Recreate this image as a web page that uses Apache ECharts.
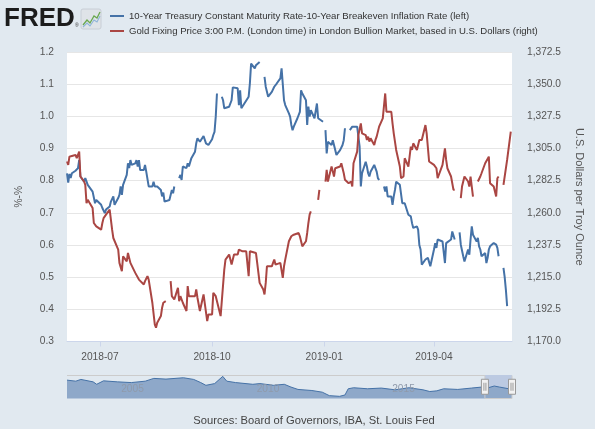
<!DOCTYPE html>
<html>
<head>
<meta charset="utf-8">
<script src="https://cdn.jsdelivr.net/npm/echarts@6/dist/echarts.min.js"></script>
<style>
html,body{margin:0;padding:0;background:#E1E9F0;}
#chart{width:595px;height:429px;}
</style>
</head>
<body>
<div id="chart"></div>
<script>
// ---------- DATA ----------
const seriesNames = [
  '10-Year Treasury Constant Maturity Rate-10-Year Breakeven Inflation Rate (left)',
  'Gold Fixing Price 3:00 P.M. (London time) in London Bullion Market, based in U.S. Dollars (right)'
];
const xTickDates = ['2018-07-01','2018-10-01','2019-01-01','2019-04-01'];
const xRange = ['2018-06-04','2019-06-04'];

const realRateDates = [
'2018-06-04','2018-06-05','2018-06-06','2018-06-07','2018-06-08','2018-06-11','2018-06-13','2018-06-14','2018-06-15',
'2018-06-18','2018-06-19','2018-06-21','2018-06-22','2018-06-25','2018-06-27','2018-06-28','2018-06-29',
'2018-07-02','2018-07-03','2018-07-05','2018-07-06','2018-07-09','2018-07-10','2018-07-12','2018-07-13',
'2018-07-16','2018-07-17','2018-07-18','2018-07-19','2018-07-20','2018-07-23','2018-07-24','2018-07-25','2018-07-26','2018-07-27',
'2018-07-30','2018-07-31','2018-08-01','2018-08-02','2018-08-03','2018-08-06','2018-08-07','2018-08-08','2018-08-10',
'2018-08-13','2018-08-14','2018-08-15','2018-08-17','2018-08-20','2018-08-21','2018-08-22','2018-08-23','2018-08-24',
'2018-08-27','2018-08-28','2018-08-29','2018-08-30','2018-08-31','2018-09-03','2018-09-04','2018-09-05','2018-09-06','2018-09-07',
'2018-09-10','2018-09-11','2018-09-12','2018-09-14','2018-09-17','2018-09-18','2018-09-19','2018-09-20','2018-09-21',
'2018-09-24','2018-09-26','2018-09-27','2018-09-28','2018-10-01','2018-10-02','2018-10-03','2018-10-04','2018-10-05',
'2018-10-08','2018-10-09','2018-10-10','2018-10-11','2018-10-12','2018-10-15','2018-10-17','2018-10-18','2018-10-19',
'2018-10-22','2018-10-23','2018-10-24','2018-10-25','2018-10-26','2018-10-31','2018-11-01','2018-11-02',
'2018-11-05','2018-11-06','2018-11-07','2018-11-09','2018-11-12','2018-11-13','2018-11-14','2018-11-16',
'2018-11-19','2018-11-20','2018-11-21','2018-11-23','2018-11-26','2018-11-27','2018-11-29','2018-11-30',
'2018-12-03','2018-12-04','2018-12-05','2018-12-06','2018-12-07','2018-12-10','2018-12-11','2018-12-12','2018-12-13','2018-12-14',
'2018-12-17','2018-12-18','2018-12-19','2018-12-20','2018-12-21','2018-12-24','2018-12-26','2018-12-27','2018-12-28',
'2018-12-31','2019-01-01','2019-01-02','2019-01-03','2019-01-04','2019-01-07','2019-01-08','2019-01-09','2019-01-10','2019-01-11',
'2019-01-14','2019-01-15','2019-01-16','2019-01-17','2019-01-18','2019-01-21','2019-01-22','2019-01-23','2019-01-24','2019-01-25',
'2019-01-28','2019-01-29','2019-01-30','2019-01-31','2019-02-01','2019-02-04','2019-02-05','2019-02-06','2019-02-07','2019-02-08',
'2019-02-11','2019-02-12','2019-02-13','2019-02-14','2019-02-15','2019-02-18','2019-02-19','2019-02-20','2019-02-21','2019-02-22',
'2019-02-25','2019-02-26','2019-02-27','2019-02-28','2019-03-01','2019-03-04','2019-03-05','2019-03-06','2019-03-07','2019-03-08',
'2019-03-11','2019-03-12','2019-03-13','2019-03-14','2019-03-15','2019-03-18','2019-03-19','2019-03-20','2019-03-21','2019-03-22',
'2019-03-25','2019-03-26','2019-03-27','2019-03-28','2019-03-29','2019-04-01','2019-04-02','2019-04-03','2019-04-04','2019-04-05',
'2019-04-08','2019-04-09','2019-04-10','2019-04-11','2019-04-12','2019-04-15','2019-04-16','2019-04-17','2019-04-18','2019-04-19',
'2019-04-22','2019-04-23','2019-04-25','2019-04-26','2019-04-29','2019-04-30','2019-05-01','2019-05-02','2019-05-03',
'2019-05-06','2019-05-07','2019-05-08','2019-05-09','2019-05-10','2019-05-13','2019-05-14','2019-05-15','2019-05-16','2019-05-17',
'2019-05-20','2019-05-21','2019-05-22','2019-05-23','2019-05-24','2019-05-27','2019-05-28','2019-05-29','2019-05-30','2019-05-31'
];
const realRateValues = [
0.823,0.794,0.821,0.808,0.823,0.831,0.839,0.864,0.813,
0.797,0.808,0.787,0.782,0.766,0.730,0.740,0.735,
0.725,0.715,0.699,0.710,0.720,0.735,0.751,0.725,
0.746,0.756,0.782,0.756,0.787,0.818,0.854,0.839,0.864,0.849,
0.854,0.864,0.844,0.864,0.833,0.833,0.849,0.828,0.782,
0.782,0.797,0.782,0.782,0.771,0.751,0.763,0.735,0.730,
0.740,0.746,0.771,0.761,0.782,null,0.808,0.818,0.802,0.844,
0.839,0.854,0.844,0.870,0.890,0.916,0.932,0.926,0.921,
0.939,0.916,0.921,0.911,0.929,0.942,0.952,0.999,1.071,
null,1.061,1.050,1.025,1.030,1.030,1.050,1.090,1.092,
1.087,1.035,1.081,1.025,1.019,1.061,1.102,1.164,
1.149,1.159,1.154,1.169,null,1.123,1.092,1.061,
1.076,1.071,1.092,1.102,1.118,1.149,1.050,1.035,
1.009,0.999,0.973,0.957,0.968,0.994,0.999,1.014,1.081,1.071,
1.050,0.973,1.030,0.999,1.019,0.994,1.040,0.994,0.989,
0.983,null,0.957,0.885,0.921,0.911,0.926,0.911,0.916,0.880,
0.895,0.901,0.911,0.926,0.963,null,0.957,0.952,0.968,0.970,
0.968,0.965,0.906,0.782,0.823,0.859,0.844,0.823,0.813,0.828,
0.849,0.849,0.828,0.808,0.802,null,0.782,0.766,0.782,0.751,
0.751,0.725,0.751,0.771,0.797,0.787,0.782,0.730,0.725,0.730,
0.694,0.699,0.689,0.668,0.653,0.658,0.648,0.600,0.586,0.539,
0.555,0.549,0.560,0.565,0.534,0.586,0.606,0.591,0.617,0.611,
0.611,0.617,0.544,0.606,0.611,0.617,0.642,0.648,0.617,null,
0.639,0.601,0.565,0.549,0.586,0.570,0.617,0.658,0.632,
0.611,0.622,0.596,0.586,0.565,0.575,0.544,0.560,0.586,0.596,
0.606,0.603,0.601,0.591,0.565,null,0.529,0.500,0.460,0.410
];

const goldDates = [
'2018-06-04','2018-06-05','2018-06-06','2018-06-07','2018-06-08','2018-06-11','2018-06-12','2018-06-14','2018-06-15',
'2018-06-18','2018-06-19','2018-06-20','2018-06-21','2018-06-22','2018-06-25','2018-06-26','2018-06-28','2018-06-29',
'2018-07-02','2018-07-03','2018-07-04','2018-07-05','2018-07-06','2018-07-09','2018-07-10','2018-07-11','2018-07-12','2018-07-13',
'2018-07-16','2018-07-17','2018-07-19','2018-07-20','2018-07-23','2018-07-24','2018-07-26','2018-07-27',
'2018-07-30','2018-08-02','2018-08-03','2018-08-06','2018-08-07','2018-08-08','2018-08-09','2018-08-10',
'2018-08-13','2018-08-15','2018-08-16','2018-08-17','2018-08-20','2018-08-21','2018-08-22','2018-08-24',
'2018-08-27','2018-08-28','2018-08-29','2018-08-30','2018-08-31','2018-09-03','2018-09-04','2018-09-05','2018-09-07',
'2018-09-10','2018-09-11','2018-09-12','2018-09-14','2018-09-17','2018-09-18','2018-09-19','2018-09-21',
'2018-09-24','2018-09-27','2018-09-28','2018-10-01','2018-10-02','2018-10-03','2018-10-04',
'2018-10-08','2018-10-09','2018-10-11','2018-10-12','2018-10-15','2018-10-17','2018-10-19',
'2018-10-22','2018-10-23','2018-10-24','2018-10-26','2018-10-29','2018-10-30','2018-10-31','2018-11-01','2018-11-02',
'2018-11-06','2018-11-07','2018-11-09','2018-11-12','2018-11-13','2018-11-14','2018-11-15',
'2018-11-19','2018-11-20','2018-11-21','2018-11-22','2018-11-23','2018-11-26','2018-11-28','2018-11-29','2018-11-30',
'2018-12-03','2018-12-05','2018-12-07','2018-12-11','2018-12-12','2018-12-14',
'2018-12-17','2018-12-18','2018-12-19','2018-12-20','2018-12-21','2018-12-24','2018-12-27','2018-12-28',
'2018-12-31','2019-01-02','2019-01-03','2019-01-04','2019-01-07','2019-01-08','2019-01-09','2019-01-10','2019-01-11',
'2019-01-14','2019-01-15','2019-01-16','2019-01-17','2019-01-18','2019-01-21','2019-01-22','2019-01-23','2019-01-24','2019-01-25',
'2019-01-28','2019-01-29','2019-01-31','2019-02-01','2019-02-04','2019-02-05','2019-02-06','2019-02-07','2019-02-08',
'2019-02-11','2019-02-12','2019-02-13','2019-02-14','2019-02-15','2019-02-18','2019-02-20','2019-02-21','2019-02-22',
'2019-02-25','2019-02-26','2019-02-27','2019-03-01','2019-03-04','2019-03-05','2019-03-07','2019-03-08',
'2019-03-11','2019-03-12','2019-03-13','2019-03-14','2019-03-15','2019-03-18','2019-03-20','2019-03-21','2019-03-22',
'2019-03-25','2019-03-26','2019-03-28','2019-03-29','2019-04-01','2019-04-03','2019-04-04',
'2019-04-08','2019-04-10','2019-04-11','2019-04-12','2019-04-15','2019-04-17','2019-04-18','2019-04-19',
'2019-04-23','2019-04-24','2019-04-26','2019-04-29','2019-04-30','2019-05-01','2019-05-03',
'2019-05-06','2019-05-07','2019-05-09','2019-05-10','2019-05-13','2019-05-16','2019-05-17',
'2019-05-20','2019-05-22','2019-05-23','2019-05-24','2019-05-27','2019-05-28','2019-05-29','2019-05-31','2019-06-03'
];
const goldValues = [
1295.9,1293.5,1299.3,1298.2,1299.8,1300.5,1298.2,1302.8,1285.4,
1281.9,1279.6,1266.8,1269.1,1269.1,1263.3,1252.9,1250.5,1249.4,
1248.2,1252.9,1256.3,1256.3,1258.7,1262.2,1255.2,1248.2,1242.4,1241.2,
1234.3,1225.0,1219.2,1229.6,1226.1,1232.0,1225.0,1223.8,
1218.0,1213.3,1214.5,1209.9,1212.2,1211.0,1215.7,1213.3,
1197.1,1182.0,1179.7,1183.1,1187.8,1193.6,1197.1,1198.2,
null,1212.2,1201.7,1202.9,1199.4,1207.5,1198.2,1201.7,1197.1,
1191.3,1208.7,1201.7,1201.7,1201.7,1206.4,1200.6,1191.3,
1202.9,1184.3,1188.9,1188.9,1204.0,1202.9,1201.7,
1187.8,1186.6,1220.3,1227.3,1230.8,1223.8,1230.8,
1230.8,1234.3,1235.4,1233.1,1233.1,1231.9,1215.7,1233.1,1233.1,
1231.9,1225.0,1211.0,1206.4,1202.9,1211.0,1222.6,
1222.6,1225.0,1227.3,1223.8,1222.6,1225.0,1214.5,1222.6,1227.3,
1240.1,1243.6,1244.7,1245.9,1243.6,1236.6,
1240.1,1245.9,1252.9,1258.7,1261.0,null,1269.1,1276.1,
null,1281.9,1290.0,1281.9,1292.4,1289.0,1285.4,1291.2,1290.0,
1292.4,1294.7,1291.2,1287.7,1283.1,1280.7,1279.6,1281.9,1278.4,1294.7,
1302.8,1314.4,1322.6,1315.6,1314.4,1311.0,1313.3,1309.8,1312.1,
1307.5,1311.0,1313.3,1316.8,1320.3,1326.1,1343.5,1330.7,1331.9,
1330.7,1322.6,1315.6,1304.0,1292.4,1284.2,1285.4,1298.2,
1292.4,1299.3,1306.3,1304.0,1308.6,1304.0,1311.0,1312.1,1311.0,
1321.4,1315.6,1295.9,1295.9,1293.5,1291.2,1284.2,
1293.5,1305.1,1297.0,1291.2,1285.4,1276.1,1276.1,null,
1270.3,1278.4,1285.4,1281.9,1278.4,1285.4,1271.4,
null,1281.9,1285.4,1287.7,1294.7,1299.3,1280.7,
1278.4,1271.4,1284.2,1285.4,null,1279.6,1280.7,1297.0,1316.8
];

// navigator: long history of the left series (coarse reading)
const navDates = ['2003-01-02','2003-05-01','2003-07-08','2003-12-20','2004-02-06','2004-05-08','2004-11-13','2005-05-19',
'2005-11-22','2006-03-17','2006-08-28','2007-04-20','2007-09-05','2007-12-09','2008-02-17','2008-06-14','2008-10-01',
'2008-11-24','2009-03-22','2009-11-10','2010-02-14','2010-08-18','2011-01-08','2011-04-08','2011-07-12','2012-01-15',
'2012-06-03','2012-09-06','2013-01-22','2013-04-05','2013-05-19','2013-07-31','2014-02-03','2014-08-08','2015-02-10',
'2015-08-15','2016-02-20','2016-05-22','2016-08-25','2016-11-25','2017-06-03','2017-12-05','2018-04-23','2018-07-05',
'2018-10-08','2018-12-16','2019-04-22','2019-06-04'];
const navValues = [2.30,2.11,2.43,1.98,1.53,2.17,1.98,1.85,
2.11,2.62,2.49,2.74,2.43,1.85,1.34,1.66,3.00,
2.11,1.85,1.53,1.66,1.34,1.53,1.02,0.58,0.38,
0.07,-0.57,-0.70,-0.45,0.70,0.89,0.70,0.83,0.51,
0.89,0.51,0.19,0.32,0.70,0.58,0.83,1.02,0.83,
1.21,1.02,0.70,0.60];
const navRange = ['2003-01-02','2019-06-04'];
const navLabelDates = ['2005-01-01','2010-01-01','2015-01-01'];
const sourceText = 'Sources: Board of Governors, IBA, St. Louis Fed';

// ---------- CHART ----------
const BLUE = '#4572A7', RED = '#AA4643';
const ts = s => Date.UTC(+s.slice(0, 4), +s.slice(5, 7) - 1, +s.slice(8, 10));
const toPairs = (d, v) => d.map((x, i) => [ts(x), v[i] === null ? '-' : v[i]]);
const fmtYM = v => { const d = new Date(v); return d.getUTCFullYear() + '-' + String(d.getUTCMonth() + 1).padStart(2, '0'); };
const fmtY = v => String(new Date(v).getUTCFullYear());
const FONT = '"Liberation Sans", Arial, sans-serif';
const AXC = '#555';

const chart = echarts.init(document.getElementById('chart'), null, {renderer: 'canvas'});

function logoGraphics() {
  return [
    {type: 'text', id: 'fred', left: 4, top: 6, silent: true,
     style: {text: 'FRED', font: '900 26px "Liberation Sans", Arial, sans-serif', fill: '#1c1c1c'}},
    {type: 'text', id: 'reg', x: 75, y: 23, silent: true,
     style: {text: '\u00ae', font: '5px "Liberation Sans", Arial, sans-serif', fill: '#333'}},
    {type: 'rect', id: 'icon', shape: {x: 81, y: 9, width: 20, height: 20, r: 2}, silent: true,
     style: {fill: '#dfe3e8', stroke: '#c8ced6'}},
    {type: 'polyline', id: 'iconLine1', silent: true,
     shape: {points: [[83, 25], [87, 20], [90, 23], [94, 16], [97, 18], [100, 12]]},
     style: {stroke: '#6aa84f', lineWidth: 1.3, fill: null}},
    {type: 'polyline', id: 'iconLine2', silent: true,
     shape: {points: [[83, 27], [87, 23], [90, 26], [94, 20], [97, 22], [100, 16]]},
     style: {stroke: '#8fb5d9', lineWidth: 1.1, fill: null}},
    {type: 'text', id: 'source', x: 314, y: 421, silent: true,
     style: {text: sourceText, font: '11.2px ' + FONT, fill: '#444', align: 'center', verticalAlign: 'middle'}}
  ];
}

const option = {
  backgroundColor: '#E1E9F0',
  animation: false,
  textStyle: {fontFamily: FONT},
  legend: {
    left: 105, top: 5, orient: 'vertical', itemGap: 3,
    itemWidth: 14, itemHeight: 2, icon: 'rect',
    textStyle: {fontSize: 9.6, color: '#333', fontFamily: FONT, lineHeight: 12},
    selectedMode: false,
    data: seriesNames
  },
  grid: [
    {left: 67, right: 83, top: 52, height: 289.5, show: true, backgroundColor: '#fff', borderWidth: 0},
    {left: 67, right: 83, top: 375, height: 23.5, show: false}
  ],
  xAxis: [
    {type: 'value', gridIndex: 0, min: ts(xRange[0]), max: ts(xRange[1]), scale: true,
     axisLine: {show: true, onZero: false, lineStyle: {color: '#ccd6eb'}},
     axisTick: {show: true, length: 5, lineStyle: {color: '#ccd6eb'}, customValues: xTickDates.map(ts)},
     axisLabel: {customValues: xTickDates.map(ts), formatter: fmtYM, color: AXC, fontSize: 10.2, margin: 11,
                 showMinLabel: true, showMaxLabel: true, hideOverlap: false},
     splitLine: {show: false}},
    {type: 'value', gridIndex: 1, min: ts(navRange[0]), max: ts(navRange[1]), scale: true, z: 6,
     axisLine: {show: false, onZero: false}, axisTick: {show: false}, splitLine: {show: false},
     axisLabel: {inside: true, customValues: navLabelDates.map(ts), formatter: fmtY,
                 color: '#8f9aab', fontSize: 10.2, align: 'left', margin: 4,
                 showMinLabel: true, showMaxLabel: true, hideOverlap: false}}
  ],
  yAxis: [
    {type: 'value', gridIndex: 0, min: 0.3, max: 1.2, interval: 0.1, position: 'left',
     name: '%-%', nameLocation: 'middle', nameGap: 43, nameTextStyle: {color: AXC, fontSize: 10.2},
     axisLine: {show: false}, axisTick: {show: false},
     axisLabel: {formatter: v => v.toFixed(1), color: AXC, fontSize: 10.2, margin: 13},
     splitLine: {lineStyle: {color: '#e6e6e6', width: 1}}},
    {type: 'value', gridIndex: 0, min: 1170, max: 1372.5, interval: 22.5, position: 'right',
     name: 'U.S. Dollars per Troy Ounce', nameLocation: 'middle', nameRotate: -90, nameGap: 62,
     nameTextStyle: {color: AXC, fontSize: 11},
     axisLine: {show: false}, axisTick: {show: false},
     axisLabel: {formatter: v => v.toLocaleString('en-US', {minimumFractionDigits: 1, maximumFractionDigits: 1}),
                 color: AXC, fontSize: 10.2, margin: 15},
     splitLine: {show: false}},
    {type: 'value', gridIndex: 1, min: -1.1, max: 3.25, show: false}
  ],
  series: [
    {name: seriesNames[0], type: 'line', xAxisIndex: 0, yAxisIndex: 0, showSymbol: false, symbol: 'none',
     connectNulls: false, color: BLUE, lineStyle: {color: BLUE, width: 2}, silent: true,
     data: toPairs(realRateDates, realRateValues)},
    {name: seriesNames[1], type: 'line', xAxisIndex: 0, yAxisIndex: 1, showSymbol: false, symbol: 'none',
     connectNulls: false, color: RED, lineStyle: {color: RED, width: 2}, silent: true,
     data: toPairs(goldDates, goldValues)},
    {name: 'navigator', type: 'line', xAxisIndex: 1, yAxisIndex: 2, showSymbol: false, symbol: 'none', z: 1,
     lineStyle: {color: BLUE, width: 1}, areaStyle: {color: '#8ea8c9', opacity: 1, origin: 'start'}, silent: true,
     data: toPairs(navDates, navValues),
     markArea: {silent: true, itemStyle: {color: 'rgba(102,133,194,0.3)'},
                data: [[{xAxis: ts(xRange[0])}, {xAxis: ts(xRange[1])}]]}}
  ],
  graphic: logoGraphics()
};
chart.setOption(option);

// navigator outline and handles placed with the navigator axis scale
const xa = chart.convertToPixel({xAxisIndex: 1}, ts(navRange[0]));
const xb = chart.convertToPixel({xAxisIndex: 1}, ts(navRange[1]));
const h0 = chart.convertToPixel({xAxisIndex: 1}, ts(xRange[0]));
const h1 = chart.convertToPixel({xAxisIndex: 1}, ts(xRange[1]));
const navTop = 375, navH = 23.5;
function handle(id, x) {
  const cy = navTop + navH / 2;
  return [
    {type: 'rect', id: id + 'r', silent: true, z: 10, shape: {x: x - 3.5, y: cy - 7.5, width: 7, height: 15},
     style: {fill: '#f2f2f2', stroke: '#999', lineWidth: 1}},
    {type: 'line', id: id + 'l1', silent: true, z: 11, shape: {x1: x - 1, y1: cy - 4, x2: x - 1, y2: cy + 4}, style: {stroke: '#999', lineWidth: 1}},
    {type: 'line', id: id + 'l2', silent: true, z: 11, shape: {x1: x + 1, y1: cy - 4, x2: x + 1, y2: cy + 4}, style: {stroke: '#999', lineWidth: 1}}
  ];
}
chart.setOption({graphic: logoGraphics().concat([
  {type: 'polyline', id: 'navOutline', silent: true, z: 5,
   shape: {points: [[xa, navTop + 0.5], [h0, navTop + 0.5], [h0, navTop + navH], [h1, navTop + navH], [h1, navTop + 0.5], [xb, navTop + 0.5]]},
   style: {stroke: '#cccccc', lineWidth: 1, fill: null}}
], handle('hA', h0), handle('hB', h1))});
</script>
</body>
</html>
